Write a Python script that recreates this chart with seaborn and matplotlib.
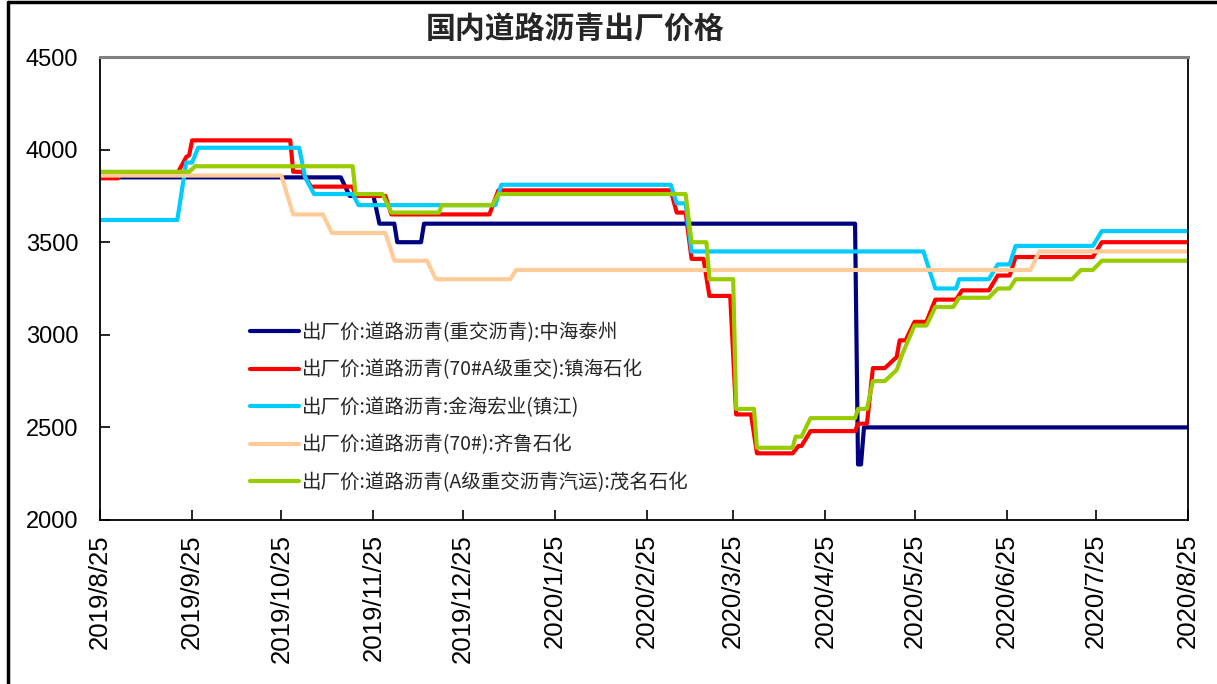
import pandas as pd
import numpy as np
import matplotlib
matplotlib.use("Agg")
import matplotlib.pyplot as plt
import seaborn as sns

sns.set_style("white")
plt.rcParams['font.family'] = ['Noto Sans CJK SC', 'DejaVu Sans']

# ---------------------------------------------------------------
# Data (breakpoints of each price path)
# ---------------------------------------------------------------
title = "国内道路沥青出厂价格"

names = [
    "出厂价:道路沥青(重交沥青):中海泰州",
    "出厂价:道路沥青(70#A级重交):镇海石化",
    "出厂价:道路沥青:金海宏业(镇江)",
    "出厂价:道路沥青(70#):齐鲁石化",
    "出厂价:道路沥青(A级重交沥青汽运):茂名石化",
]
colors = ["#000080", "#FF0000", "#00CCFF", "#FFCC99", "#99CC00"]

taizhou_dates = ["2019-08-25", "2019-11-14", "2019-11-17", "2019-11-25", "2019-11-27",
                 "2019-12-02", "2019-12-03", "2019-12-11", "2019-12-12", "2020-05-05",
                 "2020-05-06", "2020-05-07", "2020-05-08", "2020-08-25"]
taizhou_vals = [3850, 3850, 3750, 3750, 3600,
                3600, 3500, 3500, 3600, 3600,
                2300, 2300, 2500, 2500]

zhenhai_dates = ["2019-08-25", "2019-08-31", "2019-09-01", "2019-09-20", "2019-09-21",
                 "2019-09-23", "2019-09-24", "2019-09-25", "2019-10-28", "2019-10-29",
                 "2019-11-01", "2019-11-04", "2019-11-18", "2019-11-19", "2019-11-29",
                 "2019-12-01", "2020-01-03", "2020-01-06", "2020-03-04", "2020-03-06",
                 "2020-03-09", "2020-03-11", "2020-03-15", "2020-03-17", "2020-03-24",
                 "2020-03-26", "2020-03-31", "2020-04-02", "2020-04-14", "2020-04-16",
                 "2020-04-17", "2020-04-20", "2020-05-05", "2020-05-06", "2020-05-09",
                 "2020-05-11", "2020-05-15", "2020-05-19", "2020-05-20", "2020-05-22",
                 "2020-05-25", "2020-05-29", "2020-06-01", "2020-06-08", "2020-06-10",
                 "2020-06-19", "2020-06-22", "2020-06-26", "2020-06-28", "2020-07-24",
                 "2020-07-27", "2020-08-25"]
zhenhai_vals = [3845, 3845, 3870, 3870, 3900,
                3960, 3970, 4050, 4050, 3880,
                3880, 3800, 3800, 3750, 3750,
                3650, 3650, 3780, 3780, 3660,
                3660, 3410, 3410, 3210, 3210,
                2570, 2570, 2360, 2360, 2400,
                2400, 2480, 2480, 2520, 2520,
                2820, 2820, 2880, 2970, 2970,
                3070, 3070, 3190, 3190, 3240,
                3240, 3320, 3320, 3420, 3420,
                3500, 3500]

jinhai_dates = ["2019-08-25", "2019-09-20", "2019-09-23", "2019-09-25", "2019-09-27",
                "2019-10-31", "2019-11-02", "2019-11-05", "2019-11-18", "2019-11-20",
                "2020-01-05", "2020-01-07", "2020-03-04", "2020-03-06", "2020-03-09",
                "2020-03-11", "2020-05-28", "2020-06-01", "2020-06-08", "2020-06-09",
                "2020-06-19", "2020-06-22", "2020-06-26", "2020-06-28", "2020-07-24",
                "2020-07-27", "2020-08-25"]
jinhai_vals = [3620, 3620, 3930, 3930, 4010,
               4010, 3850, 3760, 3760, 3700,
               3700, 3810, 3810, 3710, 3710,
               3450, 3450, 3250, 3250, 3300,
               3300, 3380, 3380, 3480, 3480,
               3560, 3560]

qilu_dates = ["2019-08-25", "2019-10-25", "2019-10-29", "2019-11-08", "2019-11-11",
              "2019-11-29", "2019-12-02", "2019-12-13", "2019-12-16", "2020-01-10",
              "2020-01-12", "2020-07-03", "2020-07-06", "2020-08-25"]
qilu_vals = [3860, 3860, 3650, 3650, 3550,
             3550, 3400, 3400, 3300, 3300,
             3350, 3350, 3450, 3450]

maoming_dates = ["2019-08-25", "2019-09-24", "2019-09-26", "2019-11-18", "2019-11-19",
                 "2019-11-28", "2019-12-01", "2019-12-17", "2019-12-18", "2020-01-04",
                 "2020-01-06", "2020-03-09", "2020-03-11", "2020-03-16", "2020-03-17",
                 "2020-03-25", "2020-03-26", "2020-04-01", "2020-04-02", "2020-04-14",
                 "2020-04-15", "2020-04-17", "2020-04-20", "2020-05-05", "2020-05-06",
                 "2020-05-09", "2020-05-11", "2020-05-15", "2020-05-19", "2020-05-21",
                 "2020-05-25", "2020-05-29", "2020-06-01", "2020-06-07", "2020-06-09",
                 "2020-06-19", "2020-06-22", "2020-06-26", "2020-06-28", "2020-07-17",
                 "2020-07-20", "2020-07-24", "2020-07-27", "2020-08-25"]
maoming_vals = [3880, 3880, 3910, 3910, 3760,
                3760, 3660, 3660, 3700, 3700,
                3760, 3760, 3500, 3500, 3300,
                3300, 2600, 2600, 2390, 2390,
                2450, 2450, 2550, 2550, 2600,
                2600, 2750, 2750, 2810, 2900,
                3050, 3050, 3150, 3150, 3200,
                3200, 3250, 3250, 3300, 3300,
                3350, 3350, 3400, 3400]

tick_dates = ["2019-08-25", "2019-09-25", "2019-10-25", "2019-11-25", "2019-12-25",
              "2020-01-25", "2020-02-25", "2020-03-25", "2020-04-25", "2020-05-25",
              "2020-06-25", "2020-07-25", "2020-08-25"]
tick_labels = ["2019/8/25", "2019/9/25", "2019/10/25", "2019/11/25", "2019/12/25",
               "2020/1/25", "2020/2/25", "2020/3/25", "2020/4/25", "2020/5/25",
               "2020/6/25", "2020/7/25", "2020/8/25"]
y_ticks = [2000, 2500, 3000, 3500, 4000, 4500]

# ---------------------------------------------------------------
# Long-format table for seaborn
# ---------------------------------------------------------------
series = [
    (names[0], taizhou_dates, taizhou_vals),
    (names[1], zhenhai_dates, zhenhai_vals),
    (names[2], jinhai_dates, jinhai_vals),
    (names[3], qilu_dates, qilu_vals),
    (names[4], maoming_dates, maoming_vals),
]
frames = []
for name, d, v in series:
    frames.append(pd.DataFrame({"date": pd.to_datetime(d), "price": v, "series": name}))
df = pd.concat(frames, ignore_index=True)

# ---------------------------------------------------------------
# Plot
# ---------------------------------------------------------------
fig = plt.figure(figsize=(12.17, 6.84), dpi=100)
ax = fig.add_axes([100 / 1217, 1 - 520 / 684, 1088 / 1217, 463 / 684])

sns.lineplot(data=df, x="date", y="price", hue="series", hue_order=names,
             palette=colors, linewidth=3, sort=False, estimator=None, ax=ax)

ax.set_xlim(pd.Timestamp(tick_dates[0]), pd.Timestamp(tick_dates[-1]))
ax.set_ylim(y_ticks[0], y_ticks[-1])
ax.set_xticks(pd.to_datetime(tick_dates))
ax.set_xticklabels(tick_labels, rotation=90, fontsize=18.5, family="Liberation Sans")
ax.set_yticks(y_ticks)
ax.set_yticklabels([str(t) for t in y_ticks], fontsize=17, family="Liberation Sans")
ax.set_xlabel("")
ax.set_ylabel("")
ax.tick_params(axis="both", direction="in", length=7, width=1.2,
               bottom=True, left=True, colors="black")
ax.tick_params(axis="x", pad=10)
ax.tick_params(axis="y", pad=15.5)

for side in ["left", "bottom", "right"]:
    ax.spines[side].set_color("black")
    ax.spines[side].set_linewidth(1.3)
ax.spines["top"].set_color("#808080")
ax.spines["top"].set_linewidth(2.2)

leg = ax.legend(loc="upper left", bbox_to_anchor=(0.138, 0.428), frameon=False,
                fontsize=14, handlelength=2.5, handletextpad=0.15,
                labelspacing=0.85, borderpad=0, borderaxespad=0)
for line in leg.get_lines():
    line.set_linewidth(3)

fig.text(575 / 1217, 1 - 30 / 684, title, ha="center", va="center",
         fontsize=21.5, fontweight="bold")

# outer frame of the picture (left and top edges)
fig.add_artist(plt.Line2D([8 / 1217, 8 / 1217], [0, 1 - 2 / 684], color="black",
                          linewidth=2.5, transform=fig.transFigure))
fig.add_artist(plt.Line2D([8 / 1217, 1], [1 - 2 / 684, 1 - 2 / 684], color="black",
                          linewidth=2.5, transform=fig.transFigure))

fig.savefig("out.png", dpi=100)
